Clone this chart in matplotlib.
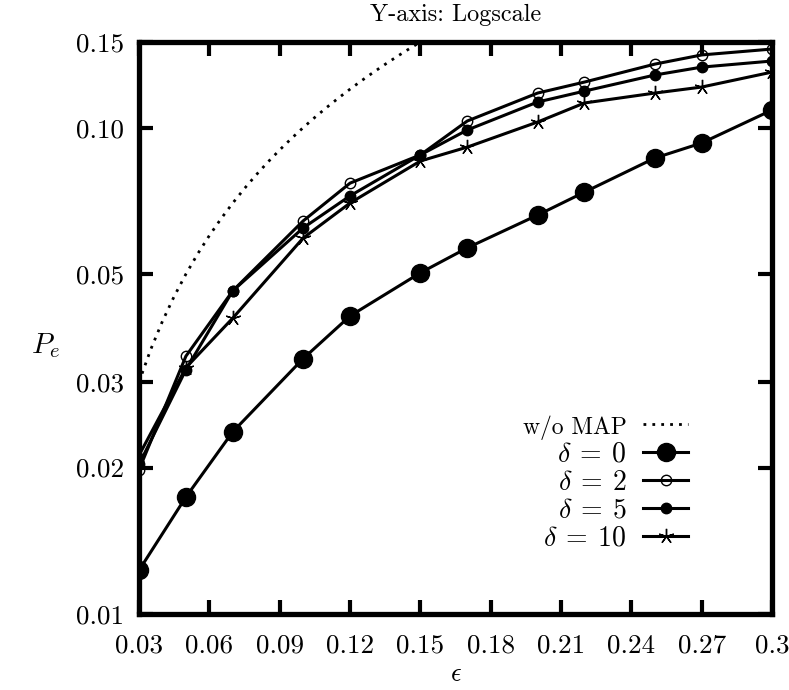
import matplotlib
matplotlib.use("Agg")
import matplotlib.pyplot as plt

plt.rcParams['mathtext.fontset'] = 'cm'

# error rate P_e versus channel error probability epsilon
eps = [0.03, 0.05, 0.07, 0.10, 0.12, 0.15, 0.17, 0.20, 0.22, 0.25, 0.27, 0.30]
pe_d0 = [0.0123, 0.0174, 0.0237, 0.0335, 0.0410, 0.0503, 0.0566, 0.0661, 0.0737, 0.0866, 0.0930, 0.1087]
pe_d2 = [0.0198, 0.0339, 0.0462, 0.0643, 0.0769, 0.0879, 0.1032, 0.1178, 0.1241, 0.1351, 0.1411, 0.1451]
pe_d5 = [0.0203, 0.0318, 0.0462, 0.0622, 0.0724, 0.0879, 0.0989, 0.1129, 0.1189, 0.1283, 0.1332, 0.1371]
pe_d10 = [0.0212, 0.0321, 0.0406, 0.0593, 0.0700, 0.0854, 0.0912, 0.1027, 0.1124, 0.1178, 0.1212, 0.1301]

# without MAP decoding
womap_eps = [0.030, 0.035, 0.040, 0.045, 0.050, 0.055, 0.060, 0.065, 0.070, 0.075,
             0.080, 0.085, 0.090, 0.095, 0.100, 0.105, 0.110, 0.115, 0.120, 0.125,
             0.130, 0.135, 0.140, 0.145, 0.150, 0.155]
womap_pe = [0.030, 0.035, 0.040, 0.045, 0.050, 0.055, 0.060, 0.065, 0.070, 0.075,
            0.080, 0.085, 0.090, 0.095, 0.100, 0.105, 0.110, 0.115, 0.120, 0.125,
            0.130, 0.135, 0.140, 0.145, 0.150, 0.155]

xticks = [0.03, 0.06, 0.09, 0.12, 0.15, 0.18, 0.21, 0.24, 0.27, 0.30]
xticklabels = ['0.03', '0.06', '0.09', '0.12', '0.15', '0.18', '0.21', '0.24', '0.27', '0.3']
yticks = [0.01, 0.02, 0.03, 0.05, 0.10, 0.15]
yticklabels = ['0.01', '0.02', '0.03', '0.05', '0.10', '0.15']

fig = plt.figure(figsize=(7.89, 6.90), dpi=100)
ax = fig.add_axes([0.1762, 0.1101, 0.8023, 0.8290])

lw = 2.2
ax.plot(womap_eps, womap_pe, color='black', linestyle=(0, (1, 2.2)), lw=2.0,
        label='w/o MAP')
ax.plot(eps, pe_d0, color='black', lw=lw, marker='o', markersize=13,
        label=r'$\delta\:=\:0$')
ax.plot(eps, pe_d2, color='black', lw=lw, marker='o', markersize=7.5,
        markerfacecolor='none', markeredgewidth=1.0, label=r'$\delta\:=\:2$')
ax.plot(eps, pe_d5, color='black', lw=lw, marker='o', markersize=7.5,
        label=r'$\delta\:=\:5$')
ax.plot(eps, pe_d10, color='black', lw=lw, marker=(5, 2, 0), markersize=11,
        markeredgewidth=1.0, label=r'$\delta\:=\:10$')

ax.set_yscale('log')
ax.set_xlim(0.03, 0.30)
ax.set_ylim(0.01, 0.15)
ax.set_xticks(xticks)
ax.set_xticklabels(xticklabels)
ax.set_yticks(yticks)
ax.set_yticklabels(yticklabels)
ax.minorticks_off()

for lab in ax.get_xticklabels() + ax.get_yticklabels():
    lab.set_fontfamily('cmr10')
    lab.set_fontsize(19.5)

ax.tick_params(direction='in', length=10, width=3, top=True, right=True)
ax.tick_params(axis='x', pad=14.5)
ax.tick_params(axis='y', pad=10.5)
for s in ax.spines.values():
    s.set_linewidth(3.8)

ax.set_title('Y-axis: Logscale', fontfamily='cmr10', fontsize=17.5, pad=15)
ax.set_xlabel(r'$\epsilon$', fontsize=19, labelpad=2)
ax.set_ylabel(r'$P_e$', fontsize=21, rotation=0, va='center', ha='center')
ax.yaxis.set_label_coords(-0.148, 0.47)

leg = ax.legend(loc='lower right', bbox_to_anchor=(0.902, 0.07), frameon=False,
                markerfirst=False, handlelength=1.6, handletextpad=0.6,
                labelspacing=0.0, fontsize=20, borderpad=0.3)
leg.get_texts()[0].set_fontfamily('cmr10')
leg.get_texts()[0].set_fontsize(17)

fig.savefig('out.png', dpi=100)
